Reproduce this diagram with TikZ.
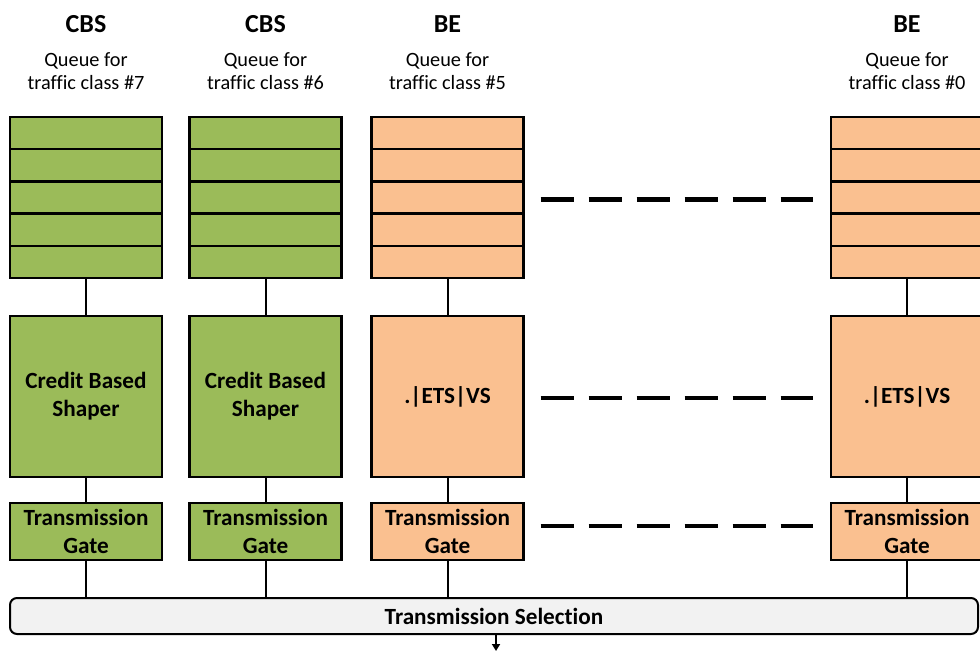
\documentclass[tikz,border=0pt]{standalone}
\usepackage{fontspec}
\setmainfont{Carlito}[Ligatures=NoCommon]
\usetikzlibrary{arrows.meta,calc}
\definecolor{cbsgreen}{HTML}{9BBB59}
\definecolor{beorange}{HTML}{FAC090}
\definecolor{selgray}{HTML}{F2F2F2}
\begin{document}
\begin{tikzpicture}[x=1pt,y=-1pt,
  box/.style={draw=black, line width=2.5pt, inner sep=0pt, outer sep=0pt,
    minimum width=152pt, align=center,
    font=\fontsize{23.2}{28}\selectfont\bfseries},
  queuebox/.style={box, minimum height=161pt},
  shaperbox/.style={box, minimum height=161pt},
  gatebox/.style={box, minimum height=57pt},
  slotline/.style={line width=2.5pt},
  link/.style={line width=2pt},
  gapdash/.style={line width=4.5pt, dash pattern=on 33pt off 15pt},
  titletext/.style={font=\fontsize{26}{31}\selectfont\bfseries, anchor=base},
  subtext/.style={font=\fontsize{20.3}{23}\selectfont, align=center, anchor=base},
  selbox/.style={draw=black, line width=2pt, fill=selgray, rounded corners=7pt,
    minimum width=968pt, minimum height=36pt, inner sep=0pt, outer sep=0pt,
    font=\fontsize{23.2}{28}\selectfont\bfseries}
]
\useasboundingbox (0,0) rectangle (980,651);
\clip (0,0) rectangle (980,651);

% transmission selection bar
\node[selbox] (sel) at (494,616) {Transmission Selection};

\foreach \n/\x/\c/\t/\s in {1/86/cbsgreen/CBS/7, 2/265.5/cbsgreen/CBS/6, 3/447.5/beorange/BE/5, 4/907/beorange/BE/0}{
  \node[titletext] (t\n) at (\x,32) {\t};
  \node[subtext] (d\n) at (\x,89) {Queue for\\traffic class \#\s};
  \node[queuebox, fill=\c] (q\n) at (\x,197.5) {};
  \foreach \k in {1,...,4}{
    \draw[slotline] ($(q\n.north west)!\k/5!(q\n.south west)$) -- ($(q\n.north east)!\k/5!(q\n.south east)$);
  }
  \node[gatebox, fill=\c] (g\n) at (\x,531.5) {Transmission\\Gate};
  \draw[link] (q\n) -- (g\n |- 0,316);
  \draw[link] (g\n) -- (g\n |- sel.north);
}
\node[shaperbox, fill=cbsgreen] (s1) at (86,396.5) {Credit Based\\Shaper};
\node[shaperbox, fill=cbsgreen] (s2) at (265.5,396.5) {Credit Based\\Shaper};
\node[shaperbox, fill=beorange] (s3) at (447.5,396.5) {.|ETS|VS};
\node[shaperbox, fill=beorange] (s4) at (907,396.5) {.|ETS|VS};
\foreach \n in {1,...,4}{
  \draw[link] (s\n) -- (g\n);
}

% dashed continuation lines
\draw[gapdash] ([xshift=17pt,yshift=-2pt]q3.east) -- ([xshift=-18pt,yshift=-2pt]q4.west);
\draw[gapdash] ([xshift=17pt,yshift=-1.5pt]s3.east) -- ([xshift=-18pt,yshift=-1.5pt]s4.west);
\draw[gapdash] ([xshift=17pt,yshift=5.5pt]g3.east) -- ([xshift=-18pt,yshift=5.5pt]g4.west);

% output arrow
\coordinate (out) at (496,651);
\draw[link, -{Triangle[length=7pt,width=8pt]}] (sel.south -| out) -- (out);
\end{tikzpicture}
\end{document}
